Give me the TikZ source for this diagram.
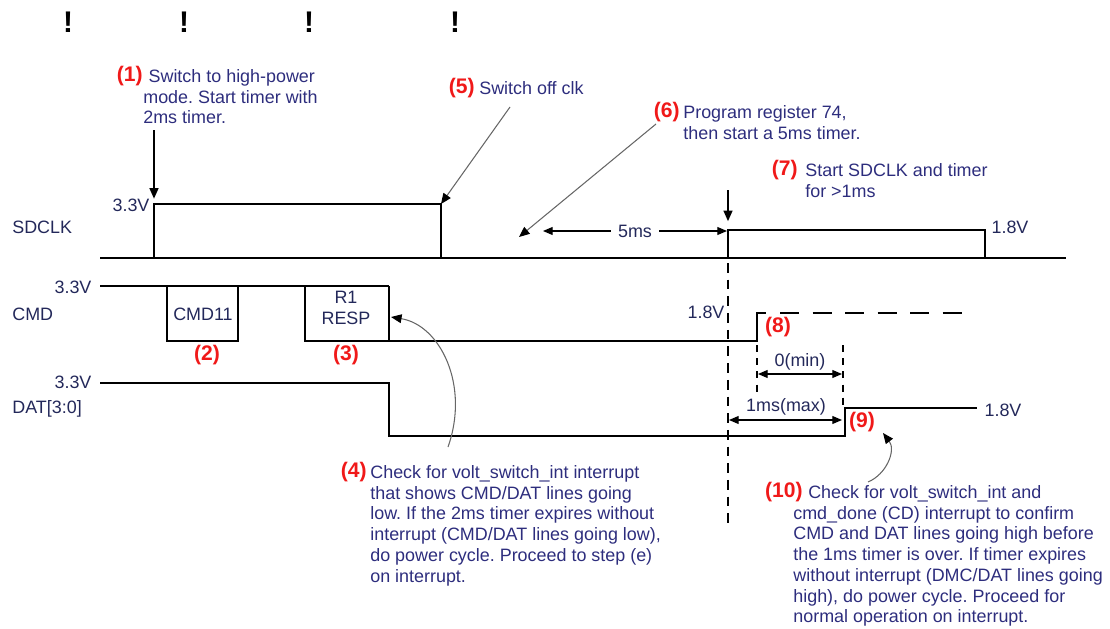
\documentclass[tikz,border=0pt]{standalone}
\usepackage{fontspec}
\setmainfont{Liberation Sans}
\usepackage{xcolor}
\usepackage{tikz}
\usetikzlibrary{arrows.meta}
\definecolor{notecol}{RGB}{45,45,125}
\definecolor{lblcol}{RGB}{35,40,90}
\definecolor{stepred}{RGB}{240,25,25}
\frenchspacing

\begin{document}
\begin{tikzpicture}[x=0.02cm,y=-0.02cm,font=\fontsize{10.2}{11.8}\selectfont,
  sig/.style={line width=1.6pt},
  stepnum/.style={text=stepred,font=\fontsize{12}{12}\selectfont\bfseries,inner sep=0pt},
  note/.style={text=notecol,align=left,anchor=north west,inner sep=0pt},
  lbl/.style={text=lblcol,inner sep=0pt},
  callout/.style={line width=1pt,-{Triangle[length=6pt,width=5pt]}},
  pointer/.style={gray!80!black,line width=0.6pt,-{Triangle[length=6pt,width=5pt,color=black]}},
  dimarr/.style={line width=0.7pt,{Triangle[length=5.5pt,width=4.5pt]}-{Triangle[length=5.5pt,width=4.5pt]}},
  guide/.style={line width=1.1pt,dash pattern=on 4pt off 3.5pt}]
  \useasboundingbox (0,0) rectangle (1110,629);

  % marks on top
  \foreach \x [count=\i] in {68,184,309,455}
    \node[font=\fontsize{17}{17}\selectfont\bfseries,inner sep=0pt] (bang\i) at (\x,22) {!};

  % signal names and levels
  \node[lbl,anchor=west] (sdclk) at (12,227) {SDCLK};
  \node[lbl,anchor=west] (cmd) at (12,314) {CMD};
  \node[lbl,anchor=west] (dat) at (12,409) {DAT[3:0]};
  \node[lbl] (v1) at (131,205) {3.3V};
  \node[lbl] (v2) at (73,287) {3.3V};
  \node[lbl] (v3) at (73,382) {3.3V};
  \node[lbl] (v4) at (1010,227) {1.8V};
  \node[lbl] (v5) at (706,312) {1.8V};
  \node[lbl] (v6) at (1003,410) {1.8V};

  % SDCLK
  \coordinate (clkup) at (154,204);
  \coordinate (clkdn) at (441,204);
  \coordinate (clkon) at (728,230);
  \draw[sig] (100,258) -- (1066,258);
  \draw[sig] (154,258) -- (clkup) -- (clkdn) -- (441,258);
  \draw[sig] (728,258) -- (clkon) -- (985,230) -- (985,258);

  % CMD
  \draw[sig] (100,286) -- (389,286);
  \draw[sig] (167,286) rectangle (238,341);
  \coordinate (respr) at (391,317);
  \draw[sig] (389,286) -- (389,341);
  \draw[sig] (305,286) -- (305,341) -- (757,341) -- (757,313) -- (766,313);
  \draw[sig,dash pattern=on 11pt off 7.5pt] (780,313) -- (962,313);
  \node[lbl] (cmd11) at (203,314) {CMD11};
  \node[lbl,align=center] (resp) at (346,308) {R1\\RESP};
  \node[stepnum] (s2) at (207,355) {(2)};
  \node[stepnum] (s3) at (346,355) {(3)};

  % DAT
  \draw[sig] (100,383) -- (389,383) -- (389,436) -- (845,436) -- (845,408) -- (977,408);

  % timing guides
  \draw[sig,dash pattern=on 5.5pt off 4pt] (728,263) -- (728,525);
  \draw[guide] (757,345) -- (757,395);
  \draw[guide] (843,345) -- (843,410);
  \coordinate (t5a) at (543,231);
  \coordinate (t5b) at (727,231);
  \draw[dimarr] (t5a) -- node[lbl,fill=white,inner xsep=4pt] (d5) {5ms} (t5b);
  \coordinate (t0a) at (758,374);
  \coordinate (t0b) at (842,374);
  \draw[dimarr] (t0a) -- (t0b);
  \node[lbl] (d0) at (800,362) {0(min)};
  \coordinate (t1a) at (729,420);
  \coordinate (t1b) at (842,420);
  \draw[dimarr] (t1a) -- (t1b);
  \node[lbl] (d1) at (786,407) {1ms(max)};
  \node[stepnum] (s8) at (778,327) {(8)};
  \node[stepnum] (s9) at (862,422) {(9)};

  % notes
  \node[stepnum,anchor=east] (s1) at (143,76) {(1)};
  \node[note] (n1) at (143,69) {\hspace*{3pt}Switch to high-power\\mode. Start timer with\\2ms timer.};
  \node[stepnum,anchor=east] (s5) at (475,88) {(5)};
  \node[note,anchor=west] (n5) at (479,88) {Switch off clk};
  \node[stepnum,anchor=east] (s6) at (680,112) {(6)};
  \node[note] (n6) at (683,105) {Program register 74,\\then start a 5ms timer.};
  \node[stepnum,anchor=east] (s7) at (798,170) {(7)};
  \node[note] (n7) at (805,163) {Start SDCLK and timer\\for >1ms};
  \node[stepnum,anchor=east] (s4) at (367,472) {(4)};
  \node[note] (n4) at (370,465) {Check for volt\_switch\_int interrupt\\that shows CMD/DAT lines going\\low. If the 2ms timer expires without\\interrupt (CMD/DAT lines going low),\\do power cycle. Proceed to step (e)\\on interrupt.};
  \node[stepnum,anchor=east] (s10) at (803,492) {(10)};
  \node[note] (n10) at (793,485) {\hspace*{8.5pt}Check for volt\_switch\_int and\\cmd\_done (CD) interrupt to confirm\\CMD and DAT lines going high before\\the 1ms timer is over. If timer expires\\without interrupt (DMC/DAT lines going\\high), do power cycle. Proceed for\\normal operation on interrupt.};

  % callouts
  \coordinate (a1) at (154,130);
  \draw[callout,shorten >=3pt] (a1) -- (clkup);
  \coordinate (a5) at (510,107);
  \draw[pointer] (a5) -- (clkdn);
  \coordinate (a6) at (656,124);
  \coordinate (off6) at (519,237);
  \draw[pointer] (a6) -- (off6);
  \coordinate (a7) at (728,190);
  \draw[callout,shorten >=5pt] (a7) -- (clkon);
  \coordinate (c4) at (448,447);
  \draw[pointer] (c4) .. controls (470,385) and (440,325) .. (respr);
  \coordinate (c10) at (868,482);
  \coordinate (tip10) at (883,433);
  \draw[pointer] (c10) .. controls (887,474) and (896,450) .. (tip10);
\end{tikzpicture}
\end{document}
